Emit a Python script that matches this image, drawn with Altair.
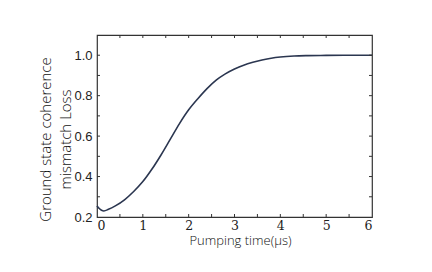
import altair as alt
import pandas as pd

# Curve values
time_us = [0.0, 0.05, 0.1, 0.15, 0.25, 0.4, 0.6, 0.8, 1.0, 1.2, 1.4, 1.6, 1.8, 2.0,
           2.2, 2.4, 2.6, 2.8, 3.0, 3.2, 3.4, 3.6, 3.8, 4.0, 4.3, 4.6, 5.0, 5.5, 6.0]
loss = [0.255, 0.242, 0.233, 0.230, 0.238, 0.255, 0.285, 0.326, 0.375, 0.437, 0.508,
        0.585, 0.662, 0.730, 0.785, 0.835, 0.877, 0.908, 0.932, 0.951, 0.965, 0.976,
        0.985, 0.991, 0.996, 0.998, 0.999, 1.0, 1.0]

x_tick_values = [0, 1, 2, 3, 4, 5, 6]
x_all_ticks = [0.5, 1, 1.5, 2, 2.5, 3, 3.5, 4, 4.5, 5, 5.5]
y_label_values = [0.2, 0.4, 0.6, 0.8, 1.0]
y_all_ticks = [0.3, 0.4, 0.5, 0.6, 0.7, 0.8, 0.9, 1.0]

W, H = 275, 182
XDOM = [0, 6]
YDOM = [0.2, 1.1]

df = pd.DataFrame({"t": time_us, "v": loss})
xt = pd.DataFrame({"t": x_all_ticks})
yt = pd.DataFrame({"v": y_all_ticks})

xscale = alt.Scale(domain=XDOM, nice=False, zero=False)
yscale = alt.Scale(domain=YDOM, nice=False, zero=False)

xaxis = alt.Axis(title="Pumping time(μs)", values=x_tick_values, format="d",
                 ticks=False, domain=False, grid=False,
                 labelFont="DejaVu Serif", labelFontSize=12.5,
                 labelPadding=2, labelColor="#222",
                 titleFont="Open Sans", titleFontSize=13, titleFontWeight=300,
                 titleColor="#111", titlePadding=3, titleX=143)
yaxis = alt.Axis(title=["Ground state coherence", "mismatch Loss"],
                 values=y_label_values, format=".1f",
                 ticks=False, domain=False, grid=False,
                 labelFont="Liberation Sans", labelFontSize=13,
                 labelPadding=5, labelColor="#222",
                 titleFont="Open Sans", titleFontSize=15, titleFontWeight=300,
                 titleColor="#111", titleLineHeight=20,
                 titleX=-47, titleY=104, titleAlign="center", titleBaseline="alphabetic")

line = alt.Chart(df).mark_line(color="#2b3650", strokeWidth=1.6,
                               interpolate="monotone").encode(
    x=alt.X("t:Q", scale=xscale, axis=xaxis),
    y=alt.Y("v:Q", scale=yscale, axis=yaxis),
)

bx = alt.Chart(xt).mark_rule(color="#333").encode(
    x=alt.X("t:Q", scale=xscale, axis=xaxis), y=alt.value(H), y2=alt.value(H - 3))
tx = alt.Chart(xt).mark_rule(color="#333").encode(
    x=alt.X("t:Q", scale=xscale, axis=xaxis), y=alt.value(0), y2=alt.value(3))
ly = alt.Chart(yt).mark_rule(color="#333").encode(
    y=alt.Y("v:Q", scale=yscale, axis=yaxis), x=alt.value(0), x2=alt.value(3))
ry = alt.Chart(yt).mark_rule(color="#333").encode(
    y=alt.Y("v:Q", scale=yscale, axis=yaxis), x=alt.value(W), x2=alt.value(W - 3))

chart = alt.layer(line, bx, tx, ly, ry).properties(
    width=W, height=H,
    autosize=alt.AutoSizeParams(type="none"),
    padding={"left": 89, "top": 27, "right": 30, "bottom": 40},
).configure_view(stroke="#333", strokeWidth=1.2)

chart.save("out.html", embed_options={"renderer": "svg", "actions": False})
